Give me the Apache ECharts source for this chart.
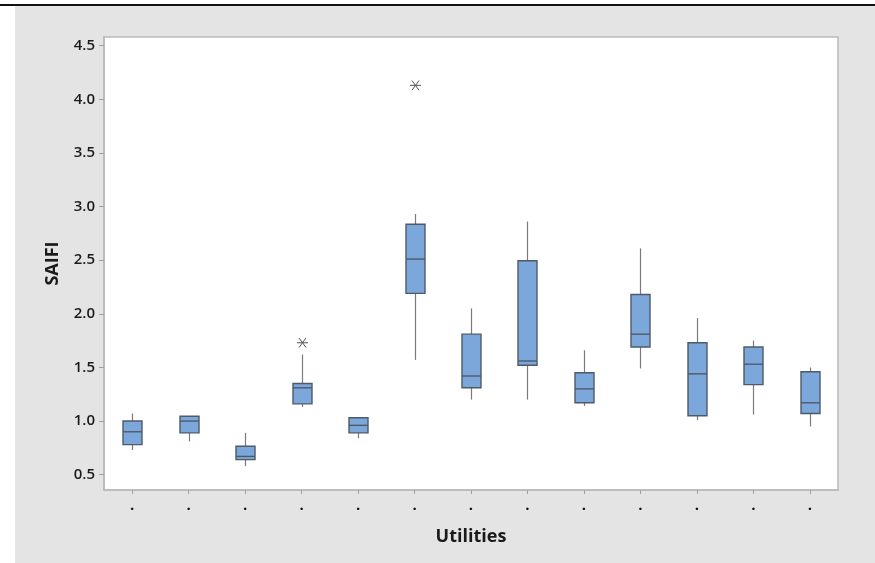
<!DOCTYPE html>
<html>
<head>
<meta charset="utf-8">
<script src="https://cdn.jsdelivr.net/npm/echarts@6/dist/echarts.min.js"></script>
<style>
html,body{margin:0;padding:0;background:#fff;}
#chart{width:875px;height:563px;}
</style>
</head>
<body>
<div id="chart"></div>
<script>
// Categories (x tick labels shown as dots in the reference)
var categories = ['.', '.', '.', '.', '.', '.', '.', '.', '.', '.', '.', '.', '.'];
// Box statistics per utility: [whisker low, Q1, median, Q3, whisker high]
var whiskerLow  = [0.73, 0.81, 0.58, 1.13, 0.84, 1.57, 1.20, 1.20, 1.14, 1.49, 1.01, 1.06, 0.95];
var q1Values    = [0.78, 0.89, 0.64, 1.16, 0.89, 2.19, 1.31, 1.52, 1.17, 1.69, 1.05, 1.34, 1.07];
var medians     = [0.90, 1.00, 0.67, 1.31, 0.96, 2.51, 1.42, 1.56, 1.30, 1.81, 1.44, 1.53, 1.17];
var q3Values    = [1.00, 1.045, 0.765, 1.35, 1.03, 2.835, 1.81, 2.495, 1.45, 2.18, 1.73, 1.69, 1.46];
var whiskerHigh = [1.07, 1.045, 0.89, 1.62, 1.03, 2.93, 2.05, 2.86, 1.66, 2.61, 1.96, 1.75, 1.50];
// Outliers: [category index, value]
var outliers = [[3, 1.73], [5, 4.13]];
// Y tick labels
var yTicks = [0.5, 1.0, 1.5, 2.0, 2.5, 3.0, 3.5, 4.0, 4.5];

var boxData = categories.map(function (c, i) {
  return [i, whiskerLow[i], q1Values[i], medians[i], q3Values[i], whiskerHigh[i]];
});

var chart = echarts.init(document.getElementById('chart'), null, {renderer: 'canvas'});

var FONT = '"Open Sans", "Noto Sans", "DejaVu Sans", sans-serif';

chart.setOption({
  animation: false,
  backgroundColor: '#ffffff',
  graphic: [
    {type: 'rect', z: -10, shape: {x: 15, y: 6, width: 860, height: 557}, style: {fill: '#e4e4e4'}},
    {type: 'rect', z: -10, shape: {x: 0, y: 4, width: 875, height: 2}, style: {fill: '#111111'}}
  ],
  grid: {
    left: 104, right: 37, top: 37, bottom: 73,
    show: true, backgroundColor: '#ffffff', borderColor: '#b9b9b9', borderWidth: 1.5
  },
  xAxis: {
    type: 'category',
    data: categories,
    boundaryGap: true,
    name: 'Utilities',
    nameLocation: 'middle',
    nameGap: 38,
    nameTextStyle: {fontFamily: FONT, fontSize: 18, fontWeight: 'bold', color: '#1a1a1a'},
    axisLine: {show: true, lineStyle: {color: '#b9b9b9', width: 1.5}},
    axisTick: {show: true, alignWithLabel: true, length: 4, lineStyle: {color: '#a0a0a0'}},
    axisLabel: {show: true, interval: 0, margin: 8, fontFamily: FONT, fontSize: 15, fontWeight: 'bold', color: '#111'},
    splitLine: {show: false}
  },
  yAxis: {
    type: 'value',
    min: 0.357,
    max: 4.581,
    name: 'SAIFI',
    nameLocation: 'middle',
    nameRotate: 90,
    nameGap: 42,
    nameTextStyle: {fontFamily: FONT, fontSize: 18, fontWeight: 'bold', color: '#1a1a1a'},
    axisLine: {show: true, lineStyle: {color: '#b9b9b9', width: 1.5}},
    axisTick: {show: true, length: 5, lineStyle: {color: '#a0a0a0'}, customValues: yTicks},
    axisLabel: {
      show: true, margin: 9, fontFamily: FONT, fontSize: 15, fontWeight: 600, color: '#1a1a1a',
      customValues: yTicks,
      formatter: function (v) { return v.toFixed(1); }
    },
    splitLine: {show: false}
  },
  series: [
    {
      type: 'custom',
      name: 'SAIFI',
      data: boxData,
      encode: {x: 0, y: [1, 2, 3, 4, 5]},
      renderItem: function (params, api) {
        var idx = api.value(0);
        var lo = api.coord([idx, api.value(1)]);
        var q1 = api.coord([idx, api.value(2)]);
        var md = api.coord([idx, api.value(3)]);
        var q3 = api.coord([idx, api.value(4)]);
        var hi = api.coord([idx, api.value(5)]);
        var cx = Math.round(lo[0]) + 0.5;
        var half = 9.5;
        var children = [];
        if (Math.abs(q1[1] - lo[1]) > 0.5) {
          children.push({type: 'line', shape: {x1: cx, y1: lo[1], x2: cx, y2: q1[1]}, style: {stroke: '#7a7a7a', lineWidth: 1.2}});
        }
        if (Math.abs(hi[1] - q3[1]) > 0.5) {
          children.push({type: 'line', shape: {x1: cx, y1: q3[1], x2: cx, y2: hi[1]}, style: {stroke: '#7a7a7a', lineWidth: 1.2}});
        }
        children.push({type: 'rect', shape: {x: cx - half, y: q3[1], width: half * 2, height: q1[1] - q3[1]},
          style: {fill: '#7ba7da', stroke: '#4f5a68', lineWidth: 1.4}});
        children.push({type: 'line', shape: {x1: cx - half, y1: md[1], x2: cx + half, y2: md[1]},
          style: {stroke: '#4f5a68', lineWidth: 1.4}});
        return {type: 'group', children: children};
      },
      z: 3
    },
    {
      type: 'custom',
      name: 'Outliers',
      data: outliers,
      encode: {x: 0, y: 1},
      renderItem: function (params, api) {
        var p = api.coord([api.value(0), api.value(1)]);
        var x = Math.round(p[0]) + 0.5, y = p[1];
        var r = 5.5, dx = 3.5, dy = 4.8;
        var st = {stroke: '#555', lineWidth: 1};
        return {type: 'group', children: [
          {type: 'line', shape: {x1: x - r, y1: y, x2: x + r, y2: y}, style: st},
          {type: 'line', shape: {x1: x - dx, y1: y - dy, x2: x + dx, y2: y + dy}, style: st},
          {type: 'line', shape: {x1: x - dx, y1: y + dy, x2: x + dx, y2: y - dy}, style: st}
        ]};
      },
      z: 4
    }
  ]
});
</script>
</body>
</html>
